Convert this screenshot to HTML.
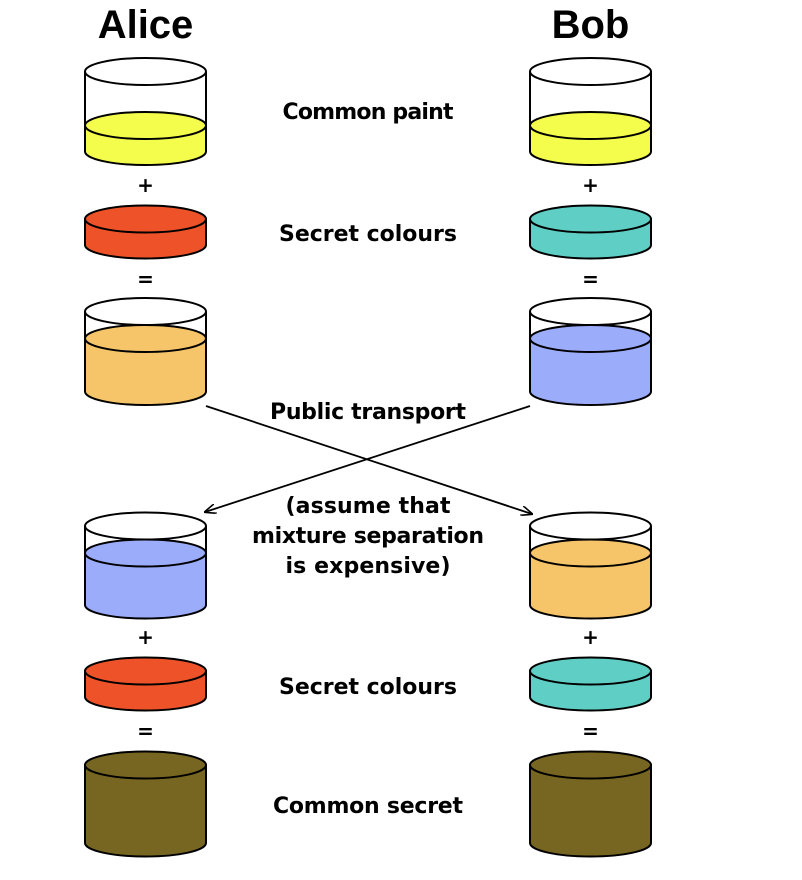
<!DOCTYPE html>
<html><head><meta charset="utf-8"><style>
html,body{margin:0;padding:0;background:#fff;}
svg{display:block;}
text{font-family:"Liberation Sans",sans-serif;font-weight:bold;fill:#000;}
.lb text{font-family:"DejaVu Sans","Liberation Sans",sans-serif;}
</style></head><body>
<svg width="802" height="880" viewBox="0 0 802 880" xmlns="http://www.w3.org/2000/svg">
<defs>
<marker id="ah" markerWidth="12" markerHeight="10" refX="11" refY="5" orient="auto" markerUnits="userSpaceOnUse">
<path d="M0,0 L12,5 L0,10" fill="none" stroke="#000" stroke-width="1.6"/>
</marker>
</defs>
<g stroke="#000" stroke-width="2">
<path d="M85,125.5 V151.5 A60.5,13.5 0 0 0 206,151.5 V125.5 Z" fill="#f4fc4c"/>
<ellipse cx="145.5" cy="125.5" rx="60.5" ry="13.5" fill="#f4fc4c"/>
<path d="M85,71.5 V125.5 M206,71.5 V125.5" fill="none"/>
<ellipse cx="145.5" cy="71.5" rx="60.5" ry="13.5" fill="#fff"/>
<path d="M530,125.5 V151.5 A60.5,13.5 0 0 0 651,151.5 V125.5 Z" fill="#f4fc4c"/>
<ellipse cx="590.5" cy="125.5" rx="60.5" ry="13.5" fill="#f4fc4c"/>
<path d="M530,71.5 V125.5 M651,71.5 V125.5" fill="none"/>
<ellipse cx="590.5" cy="71.5" rx="60.5" ry="13.5" fill="#fff"/>
<path d="M85,219 V245 A60.5,13.5 0 0 0 206,245 V219 Z" fill="#ee5228"/>
<ellipse cx="145.5" cy="219" rx="60.5" ry="13.5" fill="#ee5228"/>
<path d="M530,219 V245 A60.5,13.5 0 0 0 651,245 V219 Z" fill="#5fcfc6"/>
<ellipse cx="590.5" cy="219" rx="60.5" ry="13.5" fill="#5fcfc6"/>
<path d="M85,338.5 V391.5 A60.5,13.5 0 0 0 206,391.5 V338.5 Z" fill="#f6c56a"/>
<ellipse cx="145.5" cy="338.5" rx="60.5" ry="13.5" fill="#f6c56a"/>
<path d="M85,311.5 V338.5 M206,311.5 V338.5" fill="none"/>
<ellipse cx="145.5" cy="311.5" rx="60.5" ry="13.5" fill="#fff"/>
<path d="M530,338.5 V391.5 A60.5,13.5 0 0 0 651,391.5 V338.5 Z" fill="#9bacfa"/>
<ellipse cx="590.5" cy="338.5" rx="60.5" ry="13.5" fill="#9bacfa"/>
<path d="M530,311.5 V338.5 M651,311.5 V338.5" fill="none"/>
<ellipse cx="590.5" cy="311.5" rx="60.5" ry="13.5" fill="#fff"/>
<path d="M85,553 V605 A60.5,13.5 0 0 0 206,605 V553 Z" fill="#9bacfa"/>
<ellipse cx="145.5" cy="553" rx="60.5" ry="13.5" fill="#9bacfa"/>
<path d="M85,526 V553 M206,526 V553" fill="none"/>
<ellipse cx="145.5" cy="526" rx="60.5" ry="13.5" fill="#fff"/>
<path d="M530,553 V605 A60.5,13.5 0 0 0 651,605 V553 Z" fill="#f6c56a"/>
<ellipse cx="590.5" cy="553" rx="60.5" ry="13.5" fill="#f6c56a"/>
<path d="M530,526 V553 M651,526 V553" fill="none"/>
<ellipse cx="590.5" cy="526" rx="60.5" ry="13.5" fill="#fff"/>
<path d="M85,671 V697 A60.5,13.5 0 0 0 206,697 V671 Z" fill="#ee5228"/>
<ellipse cx="145.5" cy="671" rx="60.5" ry="13.5" fill="#ee5228"/>
<path d="M530,671 V697 A60.5,13.5 0 0 0 651,697 V671 Z" fill="#5fcfc6"/>
<ellipse cx="590.5" cy="671" rx="60.5" ry="13.5" fill="#5fcfc6"/>
<path d="M85,765 V843 A60.5,13.5 0 0 0 206,843 V765 Z" fill="#776621"/>
<ellipse cx="145.5" cy="765" rx="60.5" ry="13.5" fill="#776621"/>
<path d="M530,765 V843 A60.5,13.5 0 0 0 651,843 V765 Z" fill="#776621"/>
<ellipse cx="590.5" cy="765" rx="60.5" ry="13.5" fill="#776621"/>
</g>
<g stroke="#000" stroke-width="1.8" fill="none">
<line x1="206" y1="406" x2="532" y2="514" marker-end="url(#ah)"/>
<line x1="530" y1="406" x2="205" y2="512" marker-end="url(#ah)"/>
</g>
<text x="145.5" y="38" font-size="40" text-anchor="middle">Alice</text>
<text x="590.5" y="38" font-size="40" text-anchor="middle">Bob</text>
<g class="lb" font-size="20" text-anchor="middle">
<text x="145.5" y="192">+</text>
<text x="590.5" y="192">+</text>
<text x="145.5" y="286">=</text>
<text x="590.5" y="286">=</text>
<text x="145.5" y="644">+</text>
<text x="590.5" y="644">+</text>
<text x="145.5" y="738">=</text>
<text x="590.5" y="738">=</text>
</g>
<g class="lb" font-size="22" text-anchor="middle">
<text x="368" y="119" textLength="171" lengthAdjust="spacing">Common paint</text>
<text x="368" y="241" textLength="178" lengthAdjust="spacing">Secret colours</text>
<text x="368" y="419" textLength="196" lengthAdjust="spacing">Public transport</text>
<text x="368" y="513" textLength="165" lengthAdjust="spacing">(assume that</text>
<text x="368" y="543" textLength="232" lengthAdjust="spacing">mixture separation</text>
<text x="368" y="573" textLength="165" lengthAdjust="spacing">is expensive)</text>
<text x="368" y="694" textLength="178" lengthAdjust="spacing">Secret colours</text>
<text x="368" y="813" textLength="190" lengthAdjust="spacing">Common secret</text>
</g>
</svg>
</body></html>
